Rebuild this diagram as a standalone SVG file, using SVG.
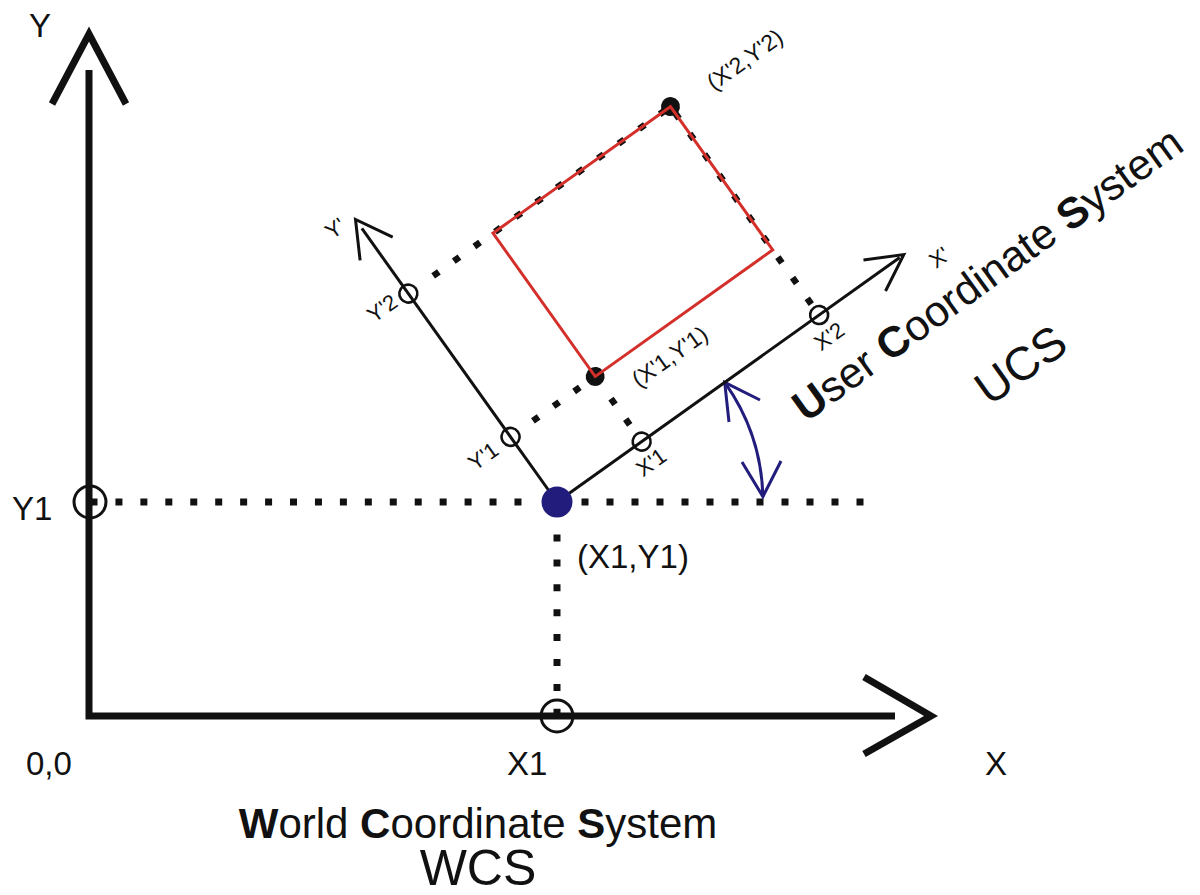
<svg xmlns="http://www.w3.org/2000/svg" width="1200" height="895" viewBox="0 0 1200 895">
<style>
text{font-family:"Liberation Sans",Arial,Helvetica,sans-serif;fill:#111}
.ax{stroke:#111;stroke-width:7;fill:none;stroke-linecap:butt;stroke-linejoin:miter}
.ax2{stroke:#111;stroke-width:3;fill:none;stroke-linejoin:miter}
.dt{stroke:#111;stroke-width:7;fill:none;stroke-linecap:butt}
.dr{stroke:#111;stroke-width:6.5;fill:none;stroke-linecap:butt;stroke-dasharray:7 18.3}
.ring{fill:none;stroke:#111;stroke-width:3}
.ring2{fill:none;stroke:#111;stroke-width:2.6}
.lbl{font-size:33px}
.sm{font-size:22px}
.par{font-size:23px}
.blue{stroke:#221d7d;stroke-width:3;fill:none;stroke-linejoin:miter}
.b{font-weight:bold}
</style>
<rect width="1200" height="895" fill="#fff"/>

<g id="connectors">
  <path class="dt" d="M90.5,502 H521.5" stroke-dasharray="7 17.94"/>
  <path class="dt" d="M581.5,502 H863.5" stroke-dasharray="7 18"/>
  <path class="dt" d="M557,534.5 V715.5" stroke-dasharray="7 17.9"/>
  <g transform="translate(557,502) rotate(-35.5)">
    <path class="dr" d="M30.5,-256 H325.5"/>
    <path class="dr" d="M322,-13.5 V-259"/>
    <path class="dr" d="M27.5,-80 H104"/>
    <path class="dr" d="M104,-20.5 V-80"/>
  </g>
  <path class="blue" d="M762.9,496.6 A206,206 0 0 0 724.7,382.4"/>
  <path class="blue" d="M729,422 L724.7,382.4 L760,400"/>
  <path class="blue" d="M742,462 L762.9,496.6 L781,461"/>
</g>

<g id="wcs-axes">
  <path class="ax" d="M89,70 V716 H895"/>
  <path class="ax" d="M52,104 L89,34 L126,104"/>
  <path class="ax" d="M864,677 L931,716 L864,754"/>
  <circle class="ring" cx="90" cy="502" r="16"/>
  <circle class="ring" cx="557" cy="716" r="16"/>
</g>

<g id="ucs-axes" transform="translate(557,502) rotate(-35.5)">
  <path class="ax2" d="M0,0 H421"/>
  <path class="ax2" d="M390,-19 L426,0 L390,19"/>
  <path class="ax2" d="M0,0 V-336"/>
  <path class="ax2" d="M-20,-311 L0,-347 L20,-311"/>
  <circle class="ring2" cx="104" cy="0" r="9"/>
  <circle class="ring2" cx="322" cy="0" r="9"/>
  <circle class="ring2" cx="0" cy="-80" r="9"/>
  <circle class="ring2" cx="0" cy="-256" r="9"/>
</g>

<g id="rectangle" transform="translate(557,502) rotate(-35.5)">
  <circle cx="104" cy="-80" r="9.5" fill="#111"/>
  <circle cx="322" cy="-256" r="9.5" fill="#111"/>
  <rect x="104" y="-256" width="218" height="176" fill="none" stroke="#d3302b" stroke-width="3"/>
</g>

<g id="ucs-origin">
  <circle cx="557" cy="502" r="15.5" fill="#221d7d"/>
</g>

<g id="labels">
  <text class="lbl" x="29" y="37">Y</text>
  <text class="lbl" x="12" y="520">Y1</text>
  <text class="lbl" x="26" y="775">0,0</text>
  <text class="lbl" x="507" y="775">X1</text>
  <text class="lbl" x="985" y="775">X</text>
  <text class="lbl" x="577" y="568">(X1,Y1)</text>

  <text class="sm" text-anchor="middle" y="8" transform="translate(335,228) rotate(-35.5)">Y'</text>
  <text class="sm" text-anchor="middle" y="8" transform="translate(382,308) rotate(-35.5)">Y'2</text>
  <text class="sm" text-anchor="middle" y="8" transform="translate(483,456) rotate(-35.5)">Y'1</text>
  <text class="sm" text-anchor="middle" y="8" transform="translate(651,462) rotate(-35.5)">X'1</text>
  <text class="sm" text-anchor="middle" y="8" transform="translate(829,336) rotate(-35.5)">X'2</text>
  <text class="sm" text-anchor="middle" y="8" transform="translate(939,257) rotate(-35.5)">X'</text>
  <text class="par" text-anchor="middle" y="7.5" transform="translate(670,357) rotate(-35.5)">(X'1,Y'1)</text>
  <text class="par" text-anchor="middle" y="7.5" transform="translate(745,60) rotate(-35.5)">(X'2,Y'2)</text>
</g>

<g id="ucs-title">
  <text font-size="43" transform="translate(806,423) rotate(-35.8)"><tspan class="b">U</tspan>ser <tspan class="b">C</tspan>oordinate <tspan class="b">S</tspan>ystem</text>
  <text font-size="47" text-anchor="middle" transform="translate(1030,378) rotate(-35.5)">UCS</text>
</g>

<g id="wcs-title">
  <text font-size="42" text-anchor="middle" x="478" y="838"><tspan class="b">W</tspan>orld <tspan class="b">C</tspan>oordinate <tspan class="b">S</tspan>ystem</text>
  <text font-size="50" text-anchor="middle" x="478" y="885">WCS</text>
</g>
</svg>
